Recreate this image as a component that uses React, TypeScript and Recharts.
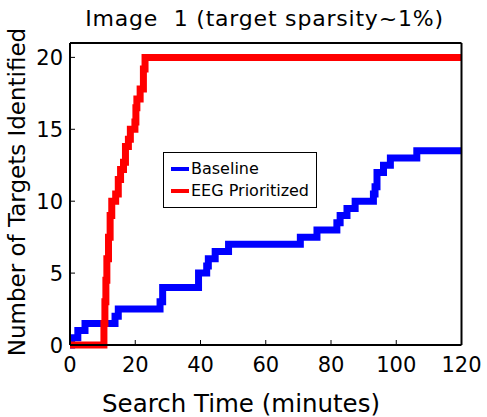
import React from "react";
import { LineChart, Line, XAxis, YAxis, Legend } from "recharts";

const baselineTimes = [0, 0.5, 2.4, 4.6, 13.8, 14.8, 27.6, 28.4, 39.4, 41.9, 42.4, 44.5, 48.6, 70.6, 75.7, 81.8, 82.8, 84.9, 87.4, 93, 93.5, 94.1, 96.1, 98.2, 106.3, 120];
const baselineCounts = [0, 0.5, 1, 1.5, 2, 2.5, 3, 4, 5, 5.5, 6, 6.5, 7, 7.5, 8, 8.5, 9, 9.5, 10, 10.5, 11, 12, 12.5, 13, 13.5, 13.5];

const eegTimes = [0, 10, 10.4, 10.7, 11, 11.3, 11.8, 12.3, 12.8, 14, 14.8, 15.5, 16.4, 17, 17.9, 18.5, 19.9, 20.2, 20.5, 21.5, 22.5, 23, 120];
const eegCounts = [0, 0, 1.5, 3, 4.5, 6, 7.5, 9, 10, 10.5, 11.5, 12.2, 12.7, 13.8, 14.3, 15, 15.5, 16.5, 17.1, 17.8, 19.2, 20, 20];

const xTicks = [0, 20, 40, 60, 80, 100, 120];
const yTicks = [0, 5, 10, 15, 20];

const titleText = "Image  1 (target sparsity~1%)";
const xLabelText = "Search Time (minutes)";
const yLabelText = "Number of Targets Identified";
const seriesNames = ["Baseline", "EEG Prioritized"];

const baselineData = baselineTimes.map((t, i) => ({ t, v: baselineCounts[i] }));
const eegData = eegTimes.map((t, i) => ({ t, v: eegCounts[i] }));

const FONT = "DejaVu Sans";
const W = 487;
const H = 417;
const M = { top: 42, left: 69, right: 24.5, bottom: 71 };

const BottomTick = (props: any) => {
  const { x, y, payload } = props;
  return (
    <g>
      <line x1={x} x2={x} y1={y} y2={y - 5} stroke="#000" strokeWidth={1} />
      <text x={x} y={y + 27} textAnchor="middle" fontFamily={FONT} fontSize={21} fill="#000">
        {payload.value}
      </text>
    </g>
  );
};
const TopTick = (props: any) => {
  const { x, y } = props;
  return <line x1={x} x2={x} y1={y} y2={y + 5} stroke="#000" strokeWidth={1} />;
};
const LeftTick = (props: any) => {
  const { x, y, payload } = props;
  return (
    <g>
      <line x1={x} x2={x + 5} y1={y} y2={y} stroke="#000" strokeWidth={1} />
      <text x={x - 7} y={y + 8} textAnchor="end" fontFamily={FONT} fontSize={21} fill="#000">
        {payload.value}
      </text>
    </g>
  );
};
const RightTick = (props: any) => {
  const { x, y } = props;
  return <line x1={x} x2={x - 5} y1={y} y2={y} stroke="#000" strokeWidth={1} />;
};

const LegendBox = (props: any) => {
  const items = (props.payload || []) as any[];
  return (
    <div
      style={{
        border: "1px solid #000",
        background: "#fff",
        width: 152,
        height: 54,
        boxSizing: "content-box",
        padding: 0,
        fontFamily: FONT,
        fontSize: 16,
        color: "#000",
      }}
    >
      {items.map((it, i) => (
        <div key={i} style={{ display: "flex", alignItems: "center", height: 22, marginTop: i === 0 ? 5 : 0, marginLeft: 7 }}>
          <div style={{ width: 18, height: 4, background: it.color, marginRight: 2 }} />
          <span style={{ lineHeight: "22px" }}>{it.value}</span>
        </div>
      ))}
    </div>
  );
};

export default function App() {
  return (
    <div style={{ position: "fixed", left: 0, top: 0, width: W, height: H, background: "#fff" }}>
      <LineChart width={W} height={H} margin={M}>
        <XAxis
          xAxisId="b"
          type="number"
          dataKey="t"
          domain={[0, 120]}
          ticks={xTicks}
          height={1}
          tickSize={0}
          tickMargin={0}
          tickLine={false}
          tick={<BottomTick />}
          axisLine={{ stroke: "#000", strokeWidth: 2 }}
          allowDataOverflow
        />
        <XAxis
          xAxisId="t"
          orientation="top"
          type="number"
          dataKey="t"
          domain={[0, 120]}
          ticks={xTicks}
          height={1}
          tickSize={0}
          tickMargin={0}
          tickLine={false}
          tick={<TopTick />}
          axisLine={{ stroke: "#000", strokeWidth: 2 }}
        />
        <YAxis
          yAxisId="l"
          type="number"
          domain={[0, 21]}
          ticks={yTicks}
          width={1}
          tickSize={0}
          tickMargin={0}
          tickLine={false}
          tick={<LeftTick />}
          axisLine={{ stroke: "#000", strokeWidth: 2 }}
        />
        <YAxis
          yAxisId="r"
          orientation="right"
          type="number"
          domain={[0, 21]}
          ticks={yTicks}
          width={1}
          tickSize={0}
          tickMargin={0}
          tickLine={false}
          tick={<RightTick />}
          axisLine={{ stroke: "#000", strokeWidth: 2 }}
        />
        <Legend
          content={<LegendBox />}
          layout="vertical"
          align="center"
          verticalAlign="middle"
          wrapperStyle={{ position: "absolute", left: 163, top: 152, width: 154, height: 56 }}
        />
        <Line
          xAxisId="b"
          yAxisId="l"
          data={baselineData}
          dataKey="v"
          name={seriesNames[0]}
          type="stepAfter"
          stroke="#0000ff"
          strokeWidth={7}
          strokeLinecap="square"
          dot={false}
          activeDot={false}
          isAnimationActive={false}
        />
        <Line
          xAxisId="b"
          yAxisId="l"
          data={eegData}
          dataKey="v"
          name={seriesNames[1]}
          type="stepAfter"
          stroke="#ff0000"
          strokeWidth={7}
          strokeLinecap="square"
          dot={false}
          activeDot={false}
          isAnimationActive={false}
        />
      </LineChart>
      <svg
        width={W}
        height={H}
        style={{ position: "absolute", left: 0, top: 0, pointerEvents: "none" }}
      >
        <text x={264.5} y={26} textAnchor="middle" fontFamily={FONT} fontSize={22} letterSpacing={0.8} fill="#000" style={{ whiteSpace: "pre" }}>
          {titleText}
        </text>
        <text x={241} y={412} textAnchor="middle" fontFamily={FONT} fontSize={24.5} fill="#000">
          {xLabelText}
        </text>
        <text
          x={25}
          y={192}
          textAnchor="middle"
          fontFamily={FONT}
          fontSize={23}
          fill="#000"
          transform="rotate(-90 25 192)"
        >
          {yLabelText}
        </text>
      </svg>
    </div>
  );
}
